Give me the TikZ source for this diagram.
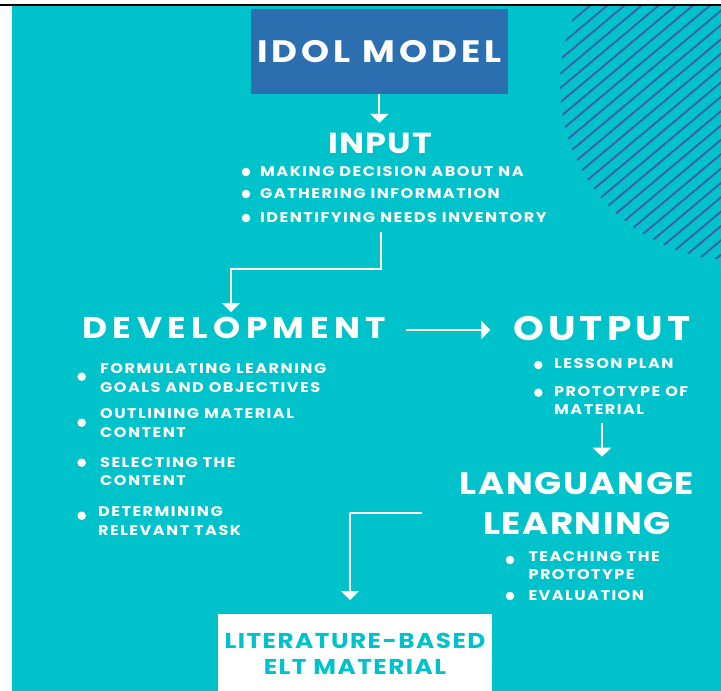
\documentclass[tikz,border=0pt]{standalone}
\usepackage{fontspec}
\setmainfont{Poppins}[FakeStretch=1.15]
\usetikzlibrary{calc}
\usetikzlibrary{positioning}
\usetikzlibrary{arrows.meta}
\definecolor{tealbg}{RGB}{0,194,203}
\definecolor{idolblue}{RGB}{43,111,176}
\definecolor{stripeblue}{RGB}{62,92,170}
\newcommand{\spaced}[1]{\bfseries\addfontfeatures{LetterSpace=#1}}
\tikzset{titlenode/.style={text=white, font=\spaced{13}\fontsize{31}{31}\selectfont, inner sep=0pt},
  headnode/.style={text=white, font=\spaced{4}\fontsize{29}{39.5}\selectfont, inner sep=0pt, align=center},
  itemnode/.style={text=white, font=\spaced{10.5}\fontsize{14}{18.5}\selectfont, align=left, anchor=west, inner sep=0pt},
  itemdot/.style={circle, fill=white, inner sep=0pt, minimum size=8.5pt},
  flow/.style={draw=white, line width=2pt, -{Triangle[width=18pt,length=9pt]}}}

\begin{document}
\begin{tikzpicture}[x=1pt, y=-1pt]
    \useasboundingbox (0,0) rectangle (721,691);
    \fill[white] (0,0) rectangle (721,691);
    \fill[tealbg] (12,6) rectangle (721,691);
    \draw[black, line width=1.4pt] (0,5) -- (721,5);
    % hatched disc, top right
    \begin{scope}
      \clip (12,6) rectangle (721,691);
      \clip (735,85) circle (175);
      \begin{scope}[shift={(735,85)}, rotate=40]
        \foreach \k in {-17,...,17}
          \draw[stripeblue, line width=1.8pt] (-200,\k*11) -- (200,\k*11);
      \end{scope}
    \end{scope}

    \node[titlenode, fill=idolblue, minimum width=257pt, minimum height=85pt] (idol) at (379.4,51.7) {IDOL MODEL};

    \node[headnode] (input) at (380.3,143.3) {INPUT};
    \node[itemnode] (in1) at (260,172) {MAKING DECISION ABOUT NA};
    \node[itemnode] (in2) at (260,194) {GATHERING INFORMATION};
    \node[itemnode] (in3) at (260,218) {IDENTIFYING NEEDS INVENTORY};
    \node[itemdot] (din1) at (246,172) {};
    \node[itemdot] (din2) at (246,194) {};
    \node[itemdot] (din3) at (246,218) {};

    \node[headnode, font=\spaced{18}\fontsize{30}{30}\selectfont] (dev) at (234.2,328) {DEVELOPMENT};
    \node[itemnode] (dv1) at (100,378) {FORMULATING LEARNING\\GOALS AND OBJECTIVES};
    \node[itemnode] (dv2) at (100,423) {OUTLINING MATERIAL\\CONTENT};
    \node[itemnode] (dv3) at (100,471.5) {SELECTING THE\\CONTENT};
    \node[itemnode] (dv4) at (98,521) {DETERMINING\\RELEVANT TASK};
    \node[itemdot] (ddv1) at (81.7,376.7) {};
    \node[itemdot] (ddv2) at (81.7,422.7) {};
    \node[itemdot] (ddv3) at (81.7,462.7) {};
    \node[itemdot] (ddv4) at (81.7,515.7) {};

    \node[headnode, font=\spaced{12}\fontsize{34}{34}\selectfont] (out) at (602,329) {OUTPUT};
    \node[itemnode] (ou1) at (554,364) {LESSON PLAN};
    \node[itemnode] (ou2) at (554,400.7) {PROTOTYPE OF\\MATERIAL};
    \node[itemdot] (dou1) at (538.3,365) {};
    \node[itemdot] (dou2) at (538.3,392.7) {};

    \node[headnode, font=\spaced{5}\fontsize{31}{39.5}\selectfont] (lang) at (577,503.7) {LANGUANGE\\LEARNING};
    \node[itemnode] (la1) at (528.3,565.5) {TEACHING THE\\PROTOTYPE};
    \node[itemnode] (la2) at (528.3,596) {EVALUATION};
    \node[itemdot] (dla1) at (510,560) {};
    \node[itemdot] (dla2) at (510,596) {};

    \node[fill=white, minimum width=273.4pt, minimum height=80pt, anchor=north, text=tealbg,
      align=center, inner sep=0pt, font=\spaced{7}\fontsize{21.5}{26}\selectfont] (lit) at (355,614) {LITERATURE-BASED\\ELT MATERIAL};

    % connectors
    \coordinate (k1) at (380.5,269);
    \coordinate (k2) at (231,269);
    \coordinate (k3) at (350,512.7);
    \draw[flow, shorten >=10pt] (idol.south) -- (idol.south |- input.north);
    \draw[flow, shorten <=9pt, shorten >=5pt] (k1 |- in3.south) -- (k1) -- (k2) -- (k2 |- dev.north);
    \draw[flow, shorten <=20pt, shorten >=23pt] ([yshift=-2pt]dev.east) -- ([yshift=-2pt]dev.east -| out.west);
    \draw[flow, shorten <=8pt, shorten >=16pt] (out |- ou2.south) -- (out |- lang.north);
    \draw[flow, shorten <=38pt, shorten >=14pt] (lang.west |- k3) -- (k3) -- (k3 |- lit.north);
\end{tikzpicture}
\end{document}
